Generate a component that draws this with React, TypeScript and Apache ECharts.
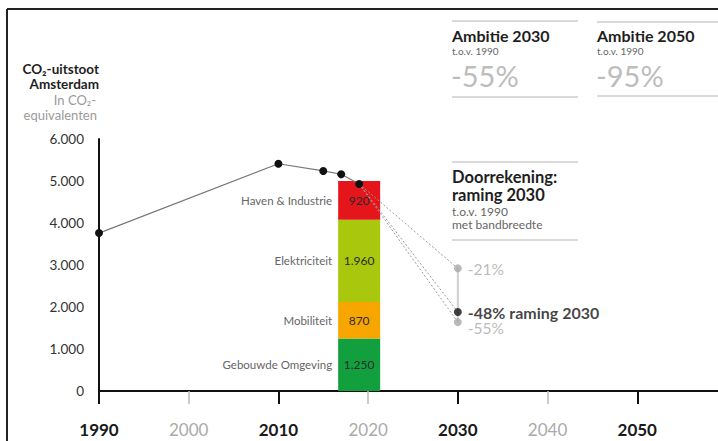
import React, { useEffect, useRef } from 'react';
import * as echarts from 'echarts';

// ---- data ----
const lineYears = [1990, 2010, 2015, 2017, 2019];
const lineValues = [3760, 5410, 5240, 5160, 4930];
const barYear = 2019;
const sectors = ['Gebouwde Omgeving', 'Mobiliteit', 'Elektriciteit', 'Haven & Industrie'];
const sectorValues = [1250, 870, 1960, 920];
const sectorColors = ['#12a03f', '#f7a600', '#a9c70c', '#e4161c'];
const projYear = 2030;
const projLabels = ['-21%', '-48% raming 2030', '-55%'];
const projValues = [2920, 1880, 1640];
const mainProjIndex = 1;
const boldYears = [1990, 2010, 2030, 2050];
const lightYears = [2000, 2020, 2040];
const yMin = 0;
const yMax = 6000;
const yStep = 1000;
const xMin = 1990;
const xMax = 2059;

const FONT = 'Lato, "Noto Sans", sans-serif';

const fmt = (v: number) =>
  v >= 1000 ? Math.floor(v / 1000) + '.' + String(v % 1000).padStart(3, '0') : String(v);

export default function App() {
  const ref = useRef<HTMLDivElement>(null);

  useEffect(() => {
    if (!ref.current) return;
    const chart = echarts.init(ref.current, undefined, { renderer: 'svg' });

    const lastX = lineYears[lineYears.length - 1];
    const lastY = lineValues[lineValues.length - 1];

    // stacked segments: [year, start, end, index]
    const segments: number[][] = [];
    let acc = 0;
    sectorValues.forEach((v, i) => {
      segments.push([barYear, acc, acc + v, i]);
      acc += v;
    });

    const dashSeries = projValues.map((v) => ({
      type: 'line',
      xAxisIndex: 0,
      yAxisIndex: 0,
      symbol: 'none',
      z: 3,
      data: [
        [lastX, lastY],
        [projYear, v],
      ],
      lineStyle: { color: '#9a9a9a', width: 1, type: [2, 2] },
    }));

    const grayProj = projValues
      .map((v, i) => ({ v, i }))
      .filter((d) => d.i !== mainProjIndex)
      .map((d) => ({
        name: projLabels[d.i],
        value: [projYear, d.v],
        label: { offset: [0, d.v < projValues[mainProjIndex] ? 6 : 1] },
      }));

    const txt = (
      text: string,
      x: number,
      y: number,
      fontSize: number,
      fill: string,
      bold = false,
      align = 'left'
    ) => ({
      type: 'text',
      style: {
        text,
        x,
        y,
        align,
        verticalAlign: 'middle',
        fill,
        fontSize,
        lineHeight: Math.round(fontSize * 0.95),
        fontWeight: bold ? 'bold' : 'normal',
        fontFamily: FONT,
      },
    });

    const hline = (x1: number, x2: number, y: number, stroke: string, lineWidth: number) => ({
      type: 'line',
      shape: { x1, y1: y, x2, y2: y },
      style: { stroke, lineWidth },
    });

    const option: any = {
      animation: false,
      textStyle: { fontFamily: FONT },
      grid: [
        { left: 99, top: 139, width: 621, height: 252 },
        { left: 99, top: 139, width: 621, height: 252 },
      ],
      xAxis: [
        {
          type: 'value',
          gridIndex: 0,
          min: xMin,
          max: xMax,
          axisLine: { show: true, onZero: false, lineStyle: { color: '#111', width: 2 } },
          axisTick: {
            show: true,
            length: 13,
            customValues: boldYears,
            lineStyle: { color: '#111', width: 2 },
          },
          axisLabel: {
            customValues: boldYears,
            margin: 30,
            fontSize: 17,
            fontWeight: 'bold',
            color: '#1a1a1a',
            fontFamily: FONT,
            formatter: (v: number) => String(v),
          },
          splitLine: { show: false },
        },
        {
          type: 'value',
          gridIndex: 1,
          min: xMin,
          max: xMax,
          axisLine: { show: false },
          axisTick: {
            show: true,
            length: 13,
            customValues: lightYears,
            lineStyle: { color: '#bbbbbb', width: 1.5 },
          },
          axisLabel: {
            customValues: lightYears,
            margin: 30,
            fontSize: 17,
            color: '#aaaaaa',
            fontFamily: FONT,
            formatter: (v: number) => String(v),
          },
          splitLine: { show: false },
        },
      ],
      yAxis: [
        {
          type: 'value',
          gridIndex: 0,
          min: yMin,
          max: yMax,
          interval: yStep,
          axisLine: { show: true, lineStyle: { color: '#111', width: 2 } },
          axisTick: { show: false },
          splitLine: { show: false },
          axisLabel: {
            margin: 15,
            fontSize: 13.5,
            color: '#333',
            fontFamily: FONT,
            formatter: (v: number) => fmt(v),
          },
        },
        {
          type: 'value',
          gridIndex: 1,
          min: yMin,
          max: yMax,
          show: false,
        },
      ],
      series: [
        {
          type: 'custom',
          xAxisIndex: 0,
          yAxisIndex: 0,
          z: 2,
          data: segments,
          encode: { x: 0, y: [1, 2] },
          renderItem: (params: any, api: any) => {
            const x = api.value(0);
            const s = api.value(1);
            const e = api.value(2);
            const idx = api.value(3);
            const p0 = api.coord([x, s]);
            const p1 = api.coord([x, e]);
            const w = 42;
            const midY = (p0[1] + p1[1]) / 2;
            return {
              type: 'group',
              children: [
                {
                  type: 'rect',
                  shape: { x: p0[0] - w / 2, y: p1[1], width: w, height: p0[1] - p1[1] },
                  style: { fill: sectorColors[idx] },
                },
                {
                  type: 'text',
                  style: {
                    text: fmt(e - s),
                    x: p0[0],
                    y: midY,
                    align: 'center',
                    verticalAlign: 'middle',
                    fill: '#2a2a2a',
                    fontSize: 12,
                    fontFamily: FONT,
                  },
                },
                {
                  type: 'text',
                  style: {
                    text: sectors[idx],
                    x: p0[0] - w / 2 - 6,
                    y: midY,
                    align: 'right',
                    verticalAlign: 'middle',
                    fill: '#666',
                    fontSize: 11.5,
                    fontFamily: FONT,
                  },
                },
              ],
            };
          },
        },
        ...dashSeries,
        {
          type: 'line',
          xAxisIndex: 0,
          yAxisIndex: 0,
          symbol: 'none',
          z: 3,
          data: [
            [projYear, Math.max(...projValues)],
            [projYear, Math.min(...projValues)],
          ],
          lineStyle: { color: '#cfcfcf', width: 2 },
        },
        {
          type: 'line',
          xAxisIndex: 0,
          yAxisIndex: 0,
          z: 5,
          symbol: 'circle',
          symbolSize: 8,
          data: lineYears.map((y, i) => [y, lineValues[i]]),
          lineStyle: { color: '#777', width: 1.2 },
          itemStyle: { color: '#111' },
        },
        {
          type: 'scatter',
          xAxisIndex: 0,
          yAxisIndex: 0,
          z: 6,
          symbolSize: 8,
          itemStyle: { color: '#a8a8a8' },
          data: grayProj,
          label: {
            show: true,
            position: 'right',
            distance: 6,
            formatter: '{b}',
            fontSize: 15.5,
            lineHeight: 13,
            color: '#a8a8a8',
            fontFamily: FONT,
          },
        },
        {
          type: 'scatter',
          xAxisIndex: 0,
          yAxisIndex: 0,
          z: 7,
          symbolSize: 8,
          itemStyle: { color: '#111' },
          data: [{ name: projLabels[mainProjIndex], value: [projYear, projValues[mainProjIndex]] }],
          label: {
            show: true,
            position: 'right',
            distance: 6,
            formatter: '{b}',
            fontSize: 16,
            lineHeight: 13,
            fontWeight: 'bold',
            color: '#111',
            fontFamily: FONT,
          },
        },
      ],
      graphic: [
        // frame
        { type: 'line', shape: { x1: 7, y1: 9, x2: 718, y2: 9 }, style: { stroke: '#222', lineWidth: 2 } },
        { type: 'line', shape: { x1: 7, y1: 9, x2: 7, y2: 441 }, style: { stroke: '#222', lineWidth: 2 } },
        // left title
        txt('CO₂-uitstoot', 99, 69, 13.5, '#1e1e1e', true, 'right'),
        txt('Amsterdam', 99, 84, 13.5, '#1e1e1e', true, 'right'),
        txt('In CO₂-', 96, 100, 13, '#9a9a9a', false, 'right'),
        txt('equivalenten', 97, 115, 13, '#9a9a9a', false, 'right'),
        // Ambitie 2030
        hline(452, 578, 21, '#cccccc', 1.5),
        txt('Ambitie 2030', 452, 35, 16, '#1e1e1e', true),
        txt('t.o.v. 1990', 452, 51, 10, '#666'),
        txt('-55%', 451, 75, 29, '#bdbdbd'),
        hline(452, 578, 97, '#cccccc', 1.5),
        // Ambitie 2050
        hline(597, 718, 22, '#cccccc', 1.5),
        txt('Ambitie 2050', 597, 35, 16, '#1e1e1e', true),
        txt('t.o.v. 1990', 597, 51, 10, '#666'),
        txt('-95%', 596, 75, 29, '#bdbdbd'),
        hline(597, 718, 96, '#cccccc', 1.5),
        // Doorrekening
        hline(452, 578, 162, '#b5b5b5', 1.2),
        txt('Doorrekening:', 452, 177, 16.5, '#1e1e1e', true),
        txt('raming 2030', 452, 195, 16.5, '#1e1e1e', true),
        txt('t.o.v. 1990', 452, 211, 12, '#666'),
        txt('met bandbreedte', 452, 224, 12, '#666'),
        hline(452, 578, 240, '#b5b5b5', 1.2),
      ],
    };

    chart.setOption(option);
    return () => chart.dispose();
  }, []);

  return (
    <div
      ref={ref}
      style={{ position: 'absolute', left: 0, top: 0, width: 718, height: 441, background: '#fff' }}
    />
  );
}
